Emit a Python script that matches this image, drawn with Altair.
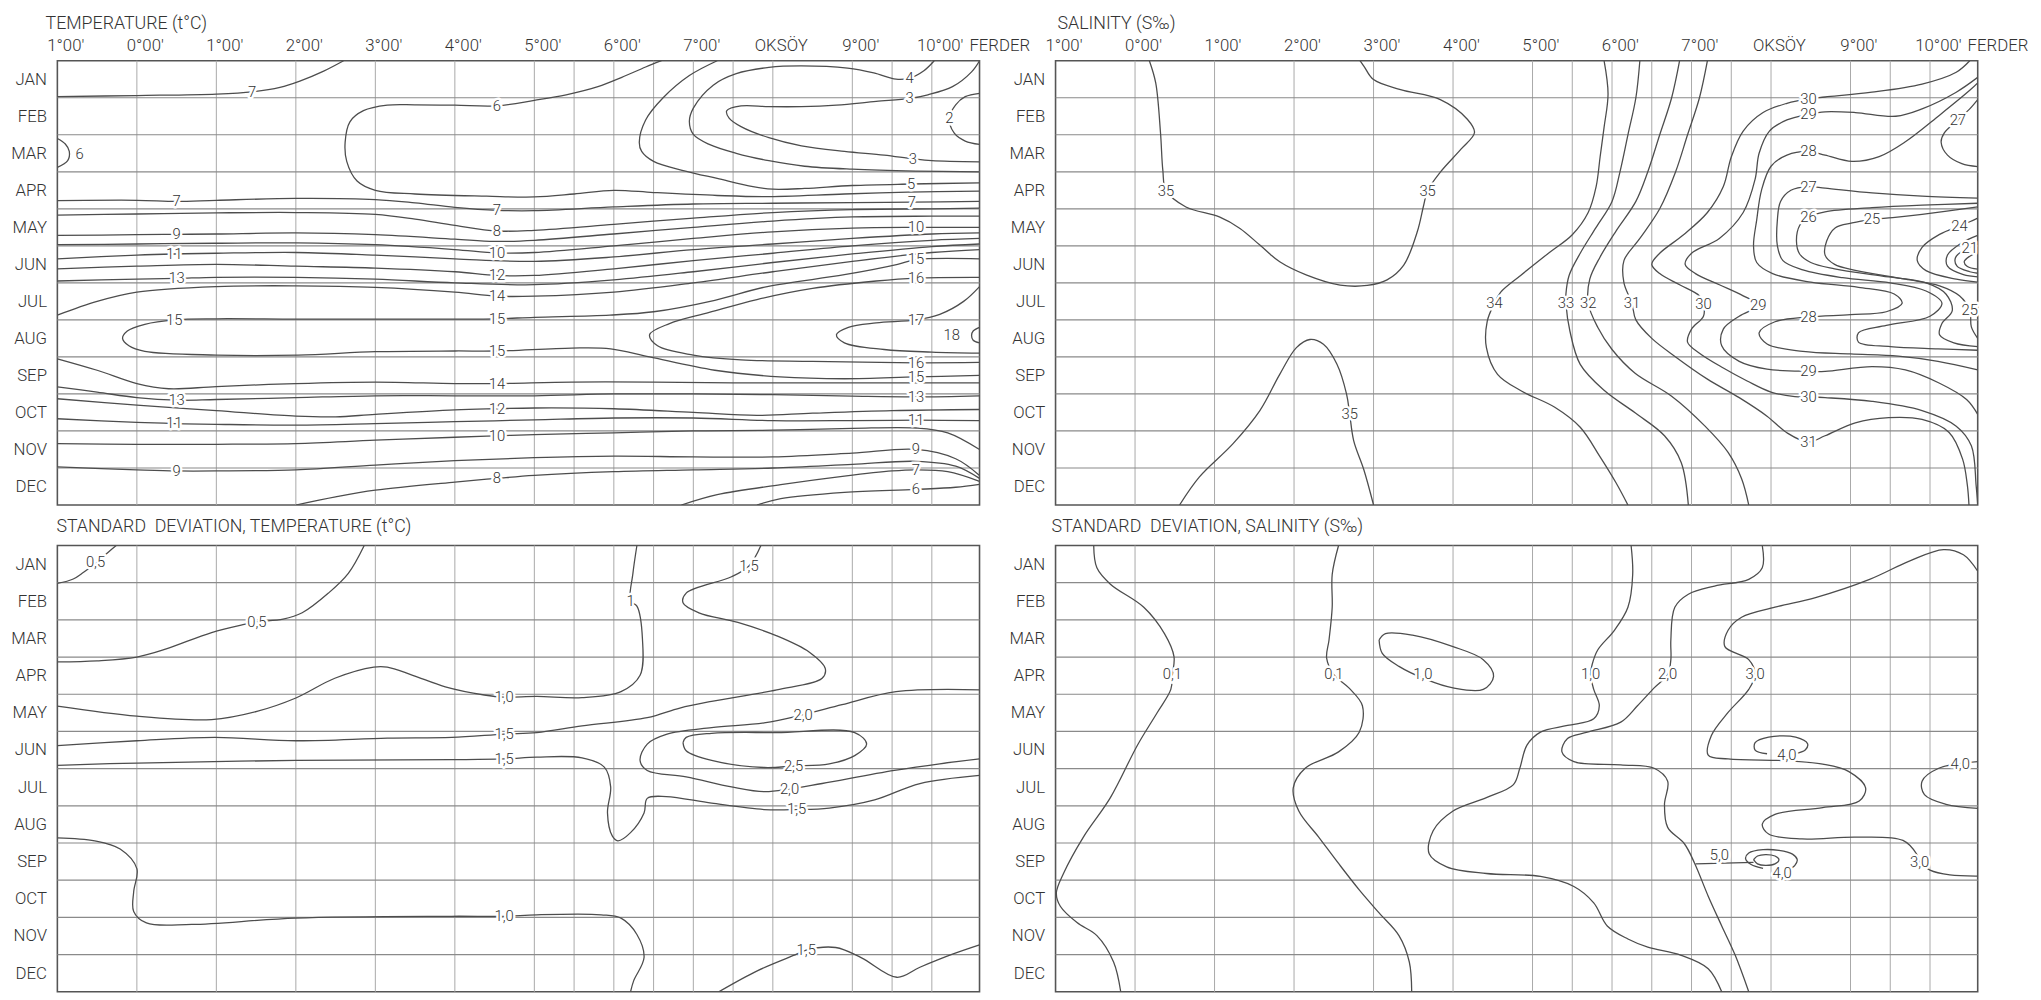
import json
import altair as alt
import pandas as pd

FONT = "Roboto, Liberation Sans, Arial, Helvetica, sans-serif"
WEIGHT = 300
INK = "#333333"
LINE = "#4d4d4d"

# ---------------- axes / grid values ----------------
MONTHS = ["JAN", "FEB", "MAR", "APR", "MAY", "JUN", "JUL", "AUG", "SEP", "OCT", "NOV", "DEC"]
MONTH_CENTRES = [0.5 + i for i in range(12)]
ROW_LINES = [1, 2, 3, 4, 5, 6, 7, 8, 9, 10, 11]
LON_TICKS = [-1, 0, 1, 2, 3, 4, 5, 6, 7, 8, 9, 10, 10.6]
LON_LABELS = ["1°00'", "0°00'", "1°00'", "2°00'", "3°00'", "4°00'", "5°00'", "6°00'",
              "7°00'", "OKSÖY", "9°00'", "10°00'", "FERDER"]
GRID_LON = [0, 1, 2, 3, 4, 5, 5.5, 6, 6.5, 7, 7.5, 8, 9, 9.5, 10]
LON_DOMAIN = [-1, 10.6]
MONTH_DOMAIN = [0, 12]

TITLES = ["TEMPERATURE (t°C)", "SALINITY (S‰)",
          "STANDARD\u00a0 DEVIATION, TEMPERATURE (t°C)",
          "STANDARD\u00a0 DEVIATION, SALINITY (S‰)"]

# ---------------- temperature contours (lon, month) ----------------
T07_jan = [(-1, 0.97), (0, 0.94), (1, 0.9), (1.45, 0.84), (1.8, 0.72), (2.05, 0.55), (2.35, 0.28), (2.6, 0)]
T06_loop = [(6.6, 0), (6.4, 0.17), (6.1, 0.45), (5.8, 0.7), (5.4, 0.92), (5.0, 1.07), (4.53, 1.22), (4.0, 1.2),
            (3.5, 1.19), (3.15, 1.2), (2.85, 1.35), (2.68, 1.65), (2.62, 2.2), (2.64, 2.72), (2.77, 3.25),
            (3.0, 3.5), (3.5, 3.6), (4.4, 3.66), (5.0, 3.68), (5.5, 3.6), (6.0, 3.5), (6.5, 3.56), (7.3, 3.64),
            (7.9, 3.67), (8.9, 3.6), (9.7, 3.55), (10.6, 3.52)]
T05 = [(7.3, 0), (6.95, 0.4), (6.62, 1.0), (6.4, 1.6), (6.32, 2.2), (6.35, 2.45), (6.5, 2.72), (6.9, 2.98),
       (7.3, 3.18), (7.75, 3.4), (8.0, 3.47), (8.4, 3.45), (9.0, 3.37), (9.74, 3.33), (10.6, 3.3)]
T04 = [(10.03, 0), (9.9, 0.27), (9.72, 0.47), (9.55, 0.5), (9.27, 0.33), (8.94, 0.2), (8.36, 0.14), (7.95, 0.18),
       (7.54, 0.35), (7.25, 0.66), (7.0, 1.28), (6.95, 1.64), (7.0, 1.99), (7.2, 2.26), (7.54, 2.5), (7.95, 2.7),
       (8.4, 2.85), (9.0, 2.93), (9.8, 2.98), (10.6, 3.0)]
T03 = [(10.6, 0), (10.5, 0.3), (10.26, 0.7), (9.95, 0.92), (9.72, 1.02), (9.3, 1.1), (8.8, 1.2), (8.36, 1.24),
       (7.95, 1.24), (7.6, 1.22), (7.42, 1.35), (7.45, 1.55), (7.6, 1.78), (7.95, 2.08), (8.36, 2.3), (8.9, 2.45),
       (9.4, 2.55), (9.76, 2.65), (10.0, 2.7), (10.6, 2.73)]
T02 = [(10.6, 0.88), (10.42, 0.97), (10.3, 1.19), (10.22, 1.55), (10.28, 1.95), (10.42, 2.17), (10.6, 2.26)]
T06_mar = [(-1, 2.1), (-0.9, 2.25), (-0.85, 2.45), (-0.87, 2.7), (-1, 2.88)]
T07_apr = [(-1, 3.78), (0, 3.77), (0.5, 3.8), (1, 3.77), (2, 3.72), (3, 3.75), (3.5, 3.84), (4, 3.96), (4.53, 4.04),
           (5, 4.05), (6, 3.95), (7, 3.87), (8, 3.85), (9, 3.83), (9.75, 3.82), (10.6, 3.8)]
T08_may = [(-1, 4.17), (0, 4.14), (1, 4.11), (2, 4.1), (3, 4.15), (3.5, 4.28), (4, 4.45), (4.53, 4.6), (5, 4.58),
           (6, 4.42), (7, 4.25), (8, 4.1), (9, 4.02), (10, 4.0), (10.6, 3.98)]
T09_may = [(-1, 4.72), (0, 4.7), (0.5, 4.69), (1, 4.68), (2, 4.65), (3, 4.7), (4, 4.82), (4.5, 4.88), (5, 4.85),
           (6, 4.68), (7, 4.5), (8, 4.33), (9, 4.22), (10, 4.2), (10.6, 4.2)]
T10_jun = [(-1, 4.97), (0, 4.95), (1, 4.93), (2, 4.92), (3, 4.97), (4, 5.1), (4.53, 5.19), (5, 5.18), (6, 5.0),
           (7, 4.8), (8, 4.62), (9, 4.52), (9.8, 4.5), (10.6, 4.5)]
T11_jun = [(-1, 5.35), (0, 5.25), (0.47, 5.22), (1, 5.2), (2, 5.18), (3, 5.25), (4, 5.35), (5, 5.42), (6, 5.3),
           (7, 5.1), (8, 4.95), (9, 4.8), (10, 4.68), (10.6, 4.65)]
T12_jun = [(-1, 5.62), (0, 5.55), (1, 5.5), (2, 5.55), (3, 5.6), (4, 5.7), (4.53, 5.8), (5, 5.8), (6, 5.62),
           (7, 5.4), (8, 5.2), (9, 5.0), (10, 4.85), (10.6, 4.8)]
T13_jun = [(-1, 5.95), (0, 5.9), (0.5, 5.88), (1, 5.85), (2, 5.85), (3, 5.9), (4, 6.0), (5, 6.05), (6, 5.92),
           (7, 5.7), (8, 5.45), (9, 5.22), (10, 5.02), (10.6, 4.95)]
T14_jul = [(-1, 6.87), (-0.5, 6.5), (0, 6.25), (1, 6.1), (2, 6.08), (3, 6.12), (4, 6.25), (4.53, 6.36), (5, 6.36),
           (6, 6.25), (7, 6.0), (8, 5.7), (9, 5.42), (10, 5.18), (10.6, 5.1)]
T15_loop = [(10.6, 5.35), (9.8, 5.37), (9.57, 5.5), (8.9, 5.78), (7.93, 6.1), (7.27, 6.47), (6.5, 6.78),
            (5.95, 6.87), (5, 6.93), (4.53, 6.97), (4, 6.98), (3, 6.98), (2, 6.98), (1, 6.97), (0.47, 7.0),
            (0.1, 7.12), (-0.12, 7.3), (-0.18, 7.5), (-0.1, 7.7), (0.1, 7.85), (1.0, 7.95), (2.03, 7.95),
            (3.0, 7.86), (4.0, 7.84), (4.53, 7.84), (5.47, 7.76), (5.96, 7.78), (6.45, 8.0), (7.27, 8.36),
            (8.09, 8.54), (8.9, 8.59), (9.8, 8.54), (10.6, 8.5)]
T16_loop = [(10.6, 5.85), (9.8, 5.87), (9.3, 5.95), (8.5, 6.15), (7.8, 6.45), (7.2, 6.8), (6.7, 7.1), (6.45, 7.4),
            (6.55, 7.7), (7.0, 7.95), (7.6, 8.08), (8.5, 8.12), (9.8, 8.16), (10.6, 8.15)]
T17_loop = [(10.6, 6.1), (10.4, 6.5), (10.1, 6.85), (9.8, 7.0), (9.3, 7.08), (8.95, 7.2), (8.8, 7.4), (8.9, 7.62),
            (9.4, 7.8), (10.0, 7.87), (10.6, 7.9)]
T18_loop = [(10.6, 7.2), (10.52, 7.3), (10.5, 7.42), (10.52, 7.55), (10.6, 7.62)]
T14_aut = [(-1, 8.05), (-0.5, 8.36), (0, 8.72), (0.4, 8.86), (1, 8.8), (2, 8.72), (3, 8.68), (4, 8.72),
           (4.53, 8.72), (5.47, 8.68), (6.5, 8.68), (7.5, 8.7), (8.5, 8.7), (9.5, 8.7), (10.6, 8.7)]
T13_aut = [(-1, 8.81), (-0.5, 8.95), (0, 9.1), (0.5, 9.17), (1, 9.15), (2, 9.1), (3, 9.05), (4, 9.05), (5, 9.05),
           (6, 9.0), (7, 9.0), (8, 9.02), (9, 9.06), (9.8, 9.08), (10.6, 9.05)]
T12_aut = [(-1, 9.13), (0, 9.3), (1, 9.45), (2, 9.6), (2.5, 9.62), (3, 9.55), (4, 9.43), (4.53, 9.4), (5, 9.38),
           (6, 9.4), (7, 9.5), (7.8, 9.58), (8.5, 9.52), (9.5, 9.45), (10.6, 9.42)]
T11_aut = [(-1, 9.67), (0, 9.77), (0.47, 9.8), (1, 9.82), (2, 9.84), (3, 9.8), (4, 9.75), (5, 9.7), (6, 9.65),
           (7, 9.65), (8, 9.72), (9, 9.72), (9.8, 9.71), (10.6, 9.72)]
T10_aut = [(-1, 10.34), (0, 10.36), (1, 10.36), (2, 10.34), (3, 10.25), (4, 10.17), (4.53, 10.13), (5, 10.1),
           (6, 10.05), (7, 10.0), (8, 9.98), (9, 9.93), (9.8, 9.92), (10.2, 10.05), (10.6, 10.5)]
T09_aut = [(-1, 10.97), (0, 11.05), (0.5, 11.08), (1, 11.08), (2, 11.05), (3, 10.92), (4, 10.8), (5, 10.72),
           (6, 10.68), (7, 10.7), (8, 10.7), (9, 10.6), (9.8, 10.5), (10.3, 10.75), (10.6, 11.2)]
T08_dec = [(2.0, 12.0), (2.5, 11.78), (3, 11.6), (4, 11.38), (4.53, 11.28), (5, 11.2), (6, 11.1), (7, 11.05),
           (8, 11.0), (9, 10.9), (9.8, 10.82), (10.3, 10.95), (10.6, 11.28)]
T07_dec = [(6.85, 12.0), (7.3, 11.72), (8.1, 11.45), (8.9, 11.22), (9.5, 11.08), (9.8, 11.05), (10.2, 11.1),
           (10.6, 11.36)]
T06_dec = [(7.8, 12.0), (8.1, 11.83), (8.9, 11.66), (9.8, 11.58), (10.3, 11.52), (10.6, 11.44)]

TEMP_LABELS = [("7", 1.45, 0.84), ("6", 4.53, 1.22), ("4", 9.72, 0.47), ("3", 9.72, 1.02), ("2", 10.22, 1.55),
               ("3", 9.76, 2.65), ("6", -0.72, 2.52), ("5", 9.74, 3.33), ("7", 0.5, 3.8), ("7", 4.53, 4.04),
               ("7", 9.75, 3.82), ("8", 4.53, 4.6), ("9", 0.5, 4.69), ("10", 4.53, 5.19), ("10", 9.8, 4.5),
               ("11", 0.47, 5.22), ("12", 4.53, 5.8), ("13", 0.5, 5.88), ("15", 9.8, 5.37), ("16", 9.8, 5.87),
               ("14", 4.53, 6.36), ("15", 0.47, 7.0), ("15", 4.53, 6.97), ("17", 9.8, 7.0), ("18", 10.25, 7.42),
               ("15", 4.53, 7.84), ("16", 9.8, 8.16), ("15", 9.8, 8.54), ("14", 4.53, 8.72), ("13", 0.5, 9.17),
               ("13", 9.8, 9.08), ("12", 4.53, 9.4), ("11", 0.47, 9.8), ("11", 9.8, 9.71), ("10", 4.53, 10.13),
               ("9", 9.8, 10.5), ("9", 0.5, 11.08), ("8", 4.53, 11.28), ("7", 9.8, 11.05), ("6", 9.8, 11.58)]

# ---------------- salinity contours ----------------
S35_north = [(0.18, 0), (0.26, 0.6), (0.32, 1.94), (0.35, 2.97), (0.39, 3.51), (0.64, 3.95), (1.06, 4.22),
             (1.32, 4.53), (1.57, 4.98), (1.82, 5.43), (2.16, 5.79), (2.58, 6.06), (2.92, 6.07), (3.17, 5.92),
             (3.38, 5.52), (3.55, 4.62), (3.63, 3.91), (3.68, 3.51), (3.84, 3.01), (4.1, 2.39), (4.27, 1.94),
             (4.18, 1.58), (3.84, 1.05), (3.34, 0.78), (3.0, 0.51), (2.88, 0.15), (2.83, 0)]
S35_south = [(0.56, 12), (0.81, 11.24), (1.23, 10.35), (1.57, 9.45), (1.82, 8.47), (2.03, 7.75), (2.2, 7.53),
             (2.37, 7.66), (2.54, 8.2), (2.66, 9.0), (2.7, 9.54), (2.75, 10.26), (2.88, 11.06), (3.0, 12)]
S34 = [(5.9, 0), (5.95, 0.9), (5.9, 1.8), (5.85, 2.6), (5.8, 3.4), (5.7, 4.1), (5.5, 4.7), (5.2, 5.2), (4.85, 5.8),
       (4.6, 6.25), (4.52, 6.55), (4.43, 7.04), (4.42, 7.75), (4.56, 8.47), (4.86, 8.92), (5.28, 9.36), (5.6, 9.9),
       (5.85, 10.7), (6.05, 11.4), (6.2, 12)]
S33 = [(6.35, 0), (6.3, 1.0), (6.2, 2.0), (6.1, 3.0), (6.0, 3.8), (5.8, 4.5), (5.6, 5.2), (5.46, 5.8),
       (5.42, 6.3), (5.42, 6.55), (5.47, 7.3), (5.6, 8.2), (5.9, 8.9), (6.29, 9.51), (6.66, 10.13),
       (6.87, 10.85), (6.96, 12)]
S32 = [(6.85, 0), (6.75, 1.0), (6.6, 2.0), (6.45, 3.0), (6.3, 3.8), (6.05, 4.6), (5.85, 5.3), (5.72, 5.9),
       (5.7, 6.55), (5.82, 7.2), (6.0, 7.8), (6.29, 8.44), (6.75, 9.06), (7.17, 9.87), (7.46, 10.58),
       (7.63, 11.29), (7.72, 12)]
S31 = [(7.2, 0), (7.1, 1.0), (6.95, 2.0), (6.8, 3.0), (6.6, 4.0), (6.35, 4.8), (6.15, 5.4), (6.15, 6.0),
       (6.25, 6.55), (6.3, 7.0), (6.5, 7.5), (6.8, 8.0), (7.2, 8.6), (7.6, 9.1), (7.95, 9.6), (8.2, 10.05),
       (8.47, 10.3), (8.68, 10.13), (9.06, 9.78), (9.48, 9.64), (9.9, 9.69), (10.24, 10.04), (10.41, 10.76),
       (10.47, 11.47), (10.49, 12)]
S30 = [(10.5, 0), (10.33, 0.31), (9.9, 0.63), (9.27, 0.85), (8.68, 0.98), (8.47, 1.03), (8.2, 1.15), (7.9, 1.4),
       (7.65, 1.9), (7.5, 2.6), (7.4, 3.4), (7.2, 4.1), (6.9, 4.7), (6.6, 5.2), (6.5, 5.5), (6.6, 5.75),
       (6.85, 6.05), (7.1, 6.35), (7.15, 6.56), (7.15, 6.9), (7.0, 7.25), (6.95, 7.6), (7.1, 7.9), (7.4, 8.3),
       (7.7, 8.65), (8.0, 8.95), (8.3, 9.07), (8.47, 9.08), (8.68, 9.1), (9.27, 9.2), (9.9, 9.45), (10.33, 9.87),
       (10.52, 10.4), (10.58, 11.47), (10.6, 12)]
S29 = [(10.6, 0.45), (10.33, 0.85), (9.9, 1.3), (9.57, 1.5), (9.06, 1.4), (8.68, 1.38), (8.47, 1.45), (8.2, 1.6),
       (7.98, 1.9), (7.85, 2.5), (7.8, 3.2), (7.65, 4.1), (7.35, 4.8), (7.0, 5.2), (6.92, 5.5), (7.05, 5.75),
       (7.35, 6.05), (7.65, 6.35), (7.84, 6.6), (7.6, 6.9), (7.4, 7.25), (7.38, 7.7), (7.6, 8.12), (7.95, 8.33),
       (8.47, 8.39), (8.68, 8.39), (9.27, 8.26), (9.69, 8.35), (10.12, 8.71), (10.46, 9.15), (10.6, 9.55)]
S28 = [(10.6, 0.6), (10.5, 0.8), (10.12, 1.47), (9.69, 2.19), (9.36, 2.59), (9.02, 2.72), (8.68, 2.55),
       (8.47, 2.45), (8.2, 2.55), (8.0, 2.85), (7.88, 3.5), (7.82, 4.3), (7.78, 5.0), (7.82, 5.45), (8.02, 5.75),
       (8.5, 5.98), (9.1, 6.12), (9.55, 6.3), (9.65, 6.55), (9.45, 6.78), (9.0, 6.86), (8.47, 6.92), (8.05, 7.05),
       (7.85, 7.35), (7.95, 7.65), (8.4, 7.85), (9.0, 7.92), (9.6, 7.98), (10.1, 8.12), (10.6, 8.35)]
S27_ferder = [(10.6, 1.05), (10.5, 1.3), (10.35, 1.6), (10.18, 1.95), (10.14, 2.2), (10.22, 2.55), (10.4, 2.78),
              (10.6, 2.86)]
S27 = [(10.6, 3.71), (9.9, 3.66), (9.27, 3.57), (8.68, 3.44), (8.47, 3.4), (8.25, 3.5), (8.12, 3.8), (8.08, 4.3),
       (8.08, 5.0), (8.15, 5.4), (8.4, 5.65), (8.9, 5.86), (9.5, 6.0), (9.95, 6.22), (10.15, 6.55), (10.0, 6.9),
       (9.45, 7.15), (9.1, 7.35), (9.1, 7.6), (9.5, 7.72), (10.1, 7.78), (10.6, 7.82)]
S26 = [(10.6, 3.85), (9.9, 3.9), (9.27, 3.97), (8.68, 4.08), (8.47, 4.22), (8.36, 4.45), (8.32, 4.87),
       (8.36, 5.22), (8.5, 5.45), (8.8, 5.62), (9.4, 5.82), (9.95, 6.0), (10.2, 6.3), (10.28, 6.75),
       (10.15, 7.1), (10.12, 7.4), (10.3, 7.62), (10.6, 7.72)]
S25 = [(10.6, 3.95), (9.9, 4.15), (9.53, 4.24), (9.27, 4.29), (9.02, 4.38), (8.81, 4.51), (8.7, 4.87),
       (8.68, 5.25), (8.8, 5.5), (9.06, 5.66), (9.69, 5.9), (10.12, 6.08), (10.37, 6.35), (10.5, 6.74),
       (10.52, 7.19), (10.6, 7.5)]
S24 = [(10.6, 4.25), (10.5, 4.35), (10.37, 4.46), (10.12, 4.69), (9.9, 5.04), (9.84, 5.4), (9.95, 5.67),
       (10.33, 5.9), (10.6, 5.98)]
S23 = [(10.6, 4.72), (10.4, 4.92), (10.22, 5.25), (10.22, 5.55), (10.42, 5.78), (10.6, 5.84)]
S22 = [(10.6, 4.95), (10.45, 5.08), (10.32, 5.32), (10.34, 5.55), (10.5, 5.7), (10.6, 5.74)]
S21 = [(10.6, 5.18), (10.5, 5.28), (10.43, 5.43), (10.47, 5.56), (10.6, 5.63)]

SAL_LABELS = [("35", 0.39, 3.51), ("35", 3.68, 3.51), ("35", 2.7, 9.54), ("34", 4.52, 6.55), ("33", 5.42, 6.55),
              ("32", 5.7, 6.55), ("31", 6.25, 6.55), ("30", 7.15, 6.56), ("29", 7.84, 6.6), ("30", 8.47, 1.03),
              ("29", 8.47, 1.45), ("28", 8.47, 2.45), ("27", 10.35, 1.6), ("27", 8.47, 3.4), ("26", 8.47, 4.22),
              ("25", 9.27, 4.29), ("24", 10.37, 4.46), ("21", 10.5, 5.05), ("25", 10.5, 6.74), ("28", 8.47, 6.92),
              ("29", 8.47, 8.39), ("30", 8.47, 9.08), ("31", 8.47, 10.3)]

# ---------------- standard deviation, temperature ----------------
D05_jan = [(-1, 1.02), (-0.8, 0.9), (-0.67, 0.72), (-0.5, 0.45), (-0.36, 0.18), (-0.26, 0.0)]
D05_spring = [(-1, 3.13), (-0.5, 3.1), (0, 3.0), (0.37, 2.78), (0.94, 2.34), (1.35, 2.12), (1.51, 2.05),
              (1.84, 1.98), (2.08, 1.81), (2.41, 1.28), (2.66, 0.75), (2.86, 0)]
D10_spring = [(-1, 4.32), (0, 4.59), (0.94, 4.68), (1.51, 4.46), (2.0, 4.1), (2.49, 3.57), (2.98, 3.27),
              (3.15, 3.27), (3.47, 3.49), (3.88, 3.8), (4.37, 4.02), (4.62, 4.08), (5.03, 4.06), (5.6, 4.09),
              (6.09, 3.93), (6.33, 3.49), (6.36, 2.52), (6.29, 1.63), (6.21, 1.5), (6.24, 0.75), (6.29, 0)]
D15_spring = [(7.85, 0), (7.7, 0.55), (7.48, 0.84), (6.91, 1.28), (6.87, 1.54), (7.07, 1.81), (7.56, 2.07),
              (8.05, 2.43), (8.46, 2.87), (8.66, 3.31), (8.62, 3.57), (8.05, 3.88), (7.23, 4.19), (6.83, 4.37),
              (6.42, 4.63), (5.6, 4.85), (5.03, 5.03), (4.62, 5.07), (3.96, 5.16), (3.15, 5.18), (2.0, 5.25),
              (0.98, 5.16), (0, 5.25), (-1, 5.38)]
D20 = [(10.6, 3.88), (9.55, 3.93), (8.87, 4.28), (8.38, 4.55), (7.89, 4.77), (7.23, 4.9), (6.66, 5.08),
       (6.42, 5.34), (6.33, 5.78), (6.42, 6.05), (6.91, 6.22), (7.48, 6.49), (7.89, 6.62), (8.21, 6.55),
       (8.62, 6.4), (9.53, 6.05), (10.1, 5.87), (10.6, 5.74)]
D25 = [(6.87, 5.3), (6.91, 5.16), (7.23, 5.05), (8.05, 5.03), (9.03, 5.03), (9.18, 5.34), (9.03, 5.65),
       (8.71, 5.87), (8.26, 5.93), (7.89, 5.97), (7.23, 5.78), (6.91, 5.52), (6.87, 5.3)]
D15_summer = [(-1, 5.91), (0, 5.85), (2.0, 5.78), (3.96, 5.76), (4.62, 5.74), (5.03, 5.69), (5.6, 5.71),
              (5.88, 5.96), (5.96, 6.49), (5.92, 7.19), (5.98, 7.81), (6.05, 7.94), (6.21, 7.72), (6.38, 7.19),
              (6.42, 6.8), (6.66, 6.75), (7.23, 6.93), (7.89, 7.1), (8.3, 7.1), (8.71, 7.06), (9.28, 6.84),
              (9.85, 6.4), (10.6, 6.18)]
D10_autumn = [(-1, 7.86), (-0.53, 7.94), (-0.21, 8.16), (0, 8.69), (-0.04, 9.31), (-0.04, 9.84), (0.12, 10.15),
              (0.69, 10.19), (2.0, 10.02), (3.96, 9.97), (4.62, 9.97), (5.03, 9.93), (5.84, 9.93), (6.09, 10.02),
              (6.29, 10.46), (6.38, 11.08), (6.25, 11.7), (6.21, 12)]
D15_winter = [(7.32, 12), (7.81, 11.43), (8.3, 10.99), (8.42, 10.88), (8.79, 10.81), (9.11, 11.08),
              (9.56, 11.61), (9.85, 11.34), (10.26, 10.99), (10.6, 10.74)]

SDT_LABELS = [("0,5", -0.52, 0.45), ("0,5", 1.51, 2.05), ("1", 6.21, 1.5), ("1,0", 4.62, 4.08),
              ("1,5", 7.7, 0.55), ("1,5", 4.62, 5.07), ("2,0", 8.38, 4.55), ("2,5", 8.26, 5.93),
              ("1,5", 4.62, 5.74), ("2,0", 8.21, 6.55), ("1,5", 8.3, 7.1), ("1,0", 4.62, 9.97),
              ("1,5", 8.42, 10.88)]

# ---------------- standard deviation, salinity ----------------
Q01_west = [(-0.52, 0), (-0.48, 0.6), (-0.31, 1.04), (0.11, 1.66), (0.37, 2.37), (0.49, 2.99), (0.47, 3.47),
            (0.45, 3.87), (0.28, 4.49), (0.03, 5.37), (-0.31, 6.78), (-0.65, 7.84), (-0.9, 8.82), (-0.99, 9.35),
            (-0.94, 9.7), (-0.73, 10.14), (-0.48, 10.49), (-0.27, 11.2), (-0.18, 12)]
Q01_mid = [(2.56, 0), (2.48, 0.78), (2.48, 1.66), (2.44, 2.54), (2.41, 3.03), (2.5, 3.47), (2.69, 3.83),
           (2.86, 4.31), (2.82, 5.02), (2.56, 5.55), (2.14, 5.99), (1.99, 6.52), (2.06, 7.14), (2.31, 7.84),
           (2.56, 8.55), (2.82, 9.26), (3.07, 9.88), (3.32, 10.49), (3.45, 11.2), (3.48, 12)]
Q10_loop = [(3.07, 2.54), (3.15, 2.37), (3.49, 2.41), (4.0, 2.72), (4.38, 3.07), (4.51, 3.52), (4.38, 3.87),
            (4.0, 3.83), (3.66, 3.6), (3.32, 3.25), (3.11, 2.9), (3.07, 2.54)]
Q10 = [(6.24, 0), (6.26, 0.78), (6.2, 1.66), (6.03, 2.28), (5.82, 2.81), (5.75, 3.2), (5.73, 3.47), (5.77, 3.87),
       (5.84, 4.31), (5.77, 4.66), (5.44, 4.84), (5.1, 5.02), (4.93, 5.37), (4.84, 5.99), (4.76, 6.43),
       (4.42, 6.78), (4.0, 7.14), (3.75, 7.67), (3.7, 8.29), (3.92, 8.64), (4.42, 8.82), (5.1, 8.9), (5.52, 9.17),
       (5.77, 9.61), (5.94, 10.23), (6.2, 10.58), (6.45, 10.8), (6.87, 11.02), (7.21, 11.38), (7.38, 12)]
Q20 = [(7.89, 0), (7.89, 0.6), (7.72, 0.91), (7.29, 1.09), (6.96, 1.31), (6.79, 1.66), (6.74, 2.54),
       (6.74, 3.07), (6.7, 3.47), (6.53, 3.83), (6.32, 4.31), (6.11, 4.75), (5.69, 5.02), (5.44, 5.19),
       (5.37, 5.55), (5.52, 5.81), (6.11, 5.9), (6.53, 5.99), (6.7, 6.34), (6.66, 6.96), (6.7, 7.58),
       (6.91, 8.02), (7.04, 8.55), (7.21, 9.43), (7.38, 10.23), (7.55, 11.02), (7.72, 12)]
Q30 = [(10.6, 0.69), (10.42, 0.25), (10.17, 0.11), (9.74, 0.42), (9.24, 0.91), (8.56, 1.4), (8.05, 1.66),
       (7.63, 1.93), (7.46, 2.28), (7.42, 2.72), (7.72, 3.07), (7.8, 3.47), (7.72, 3.87), (7.46, 4.49),
       (7.25, 5.11), (7.21, 5.64), (7.46, 5.74), (8.22, 5.79), (8.65, 5.88), (8.98, 6.08), (9.19, 6.52),
       (9.11, 6.87), (8.65, 7.05), (8.05, 7.23), (7.89, 7.49), (7.97, 7.76), (8.39, 7.89), (9.07, 7.84),
       (9.66, 7.93), (9.83, 8.29), (9.87, 8.51), (10.0, 8.73), (10.25, 8.86), (10.6, 8.89)]
Q40_jun = [(7.95, 5.6), (7.8, 5.5), (7.8, 5.3), (7.97, 5.15), (8.31, 5.15), (8.46, 5.33), (8.43, 5.5), (8.3, 5.6)]
Q40_ferder = [(10.6, 5.81), (10.11, 5.99), (9.9, 6.34), (9.93, 6.7), (10.2, 6.96), (10.6, 7.07)]
Q50_sep = [(7.78, 8.45), (7.83, 8.35), (7.93, 8.31), (8.05, 8.35), (8.1, 8.45), (8.05, 8.56), (7.93, 8.6),
           (7.83, 8.56), (7.78, 8.45)]
Q40_sep = [(8.2, 8.75), (8.3, 8.6), (8.33, 8.45), (8.27, 8.3), (8.1, 8.2), (7.9, 8.18), (7.72, 8.27),
           (7.68, 8.42), (7.75, 8.58), (7.9, 8.68)]
Q50_leader = [(7.05, 8.56), (7.78, 8.52)]

SDS_LABELS = [("0,1", 0.47, 3.47), ("0,1", 2.5, 3.47), ("1,0", 3.62, 3.47), ("1,0", 5.73, 3.47),
              ("2,0", 6.7, 3.47), ("3,0", 7.8, 3.47), ("4,0", 8.2, 5.64), ("4,0", 10.38, 5.88),
              ("5,0", 7.35, 8.32), ("4,0", 8.14, 8.8), ("3,0", 9.87, 8.51)]

TEMP_CONTOURS = [T07_jan, T06_loop, T05, T04, T03, T02, T06_mar, T07_apr, T08_may, T09_may, T10_jun, T11_jun,
                 T12_jun, T13_jun, T14_jul, T15_loop, T16_loop, T17_loop, T18_loop, T14_aut, T13_aut, T12_aut,
                 T11_aut, T10_aut, T09_aut, T08_dec, T07_dec, T06_dec]
SAL_CONTOURS = [S35_north, S35_south, S34, S33, S32, S31, S30, S29, S28, S27_ferder, S27, S26, S25, S24, S23,
                S22, S21]
SDT_CONTOURS = [D05_jan, D05_spring, D10_spring, D15_spring, D20, D25, D15_summer, D10_autumn, D15_winter]
SDS_CONTOURS = [Q01_west, Q01_mid, Q10_loop, Q10, Q20, Q30, Q40_jun, Q40_ferder, Q50_sep, Q40_sep, Q50_leader]

# ---------------- layout / style ----------------
W = 934
H_TOP, H_BOTTOM = 450, 452
SPACE_X, SPACE_Y = 77, 41
LABEL_SIZE = 17
CONTOUR_LABEL_SIZE = 15


def contour_table(contours):
    rows = []
    for cid, pts in enumerate(contours):
        for seq, (lon, m) in enumerate(pts):
            rows.append({"cid": cid, "seq": seq, "lon": lon, "m": m})
    return pd.DataFrame(rows)


def label_table(labels):
    return pd.DataFrame([{"txt": t, "lon": lon, "m": m} for t, lon, m in labels])


def panel(contours, labels, title, title_dx, title_offset, top_labels, height):
    xs = alt.Scale(domain=LON_DOMAIN, nice=False, zero=False)
    ys = alt.Scale(domain=MONTH_DOMAIN, reverse=True, nice=False, zero=False)
    if top_labels:
        lon_expr = "%s[datum.value > 10.3 ? %d : round(datum.value) + 1]" % (
            json.dumps(LON_LABELS, ensure_ascii=False), len(LON_LABELS) - 1)
        xaxis = alt.Axis(orient="top", values=LON_TICKS, labelExpr=lon_expr, ticks=False, domain=False,
                         grid=False, labelPadding=6, labelFontSize=LABEL_SIZE, labelFont=FONT,
                         labelFontWeight=WEIGHT, labelColor=INK, labelOverlap=False, labelFlush=False,
                         labelOffset={"condition": {"test": "datum.value > 10.3", "value": 20}, "value": 8},
                         title=None)
    else:
        xaxis = None
    month_expr = "%s[floor(datum.value)]" % json.dumps(MONTHS)
    yaxis = alt.Axis(values=MONTH_CENTRES, labelExpr=month_expr, ticks=False, domain=False, grid=False,
                     labelPadding=11, labelFontSize=LABEL_SIZE, labelFont=FONT, labelFontWeight=WEIGHT,
                     labelColor=INK, labelOverlap=False, labelFlush=False, title=None)
    X = alt.X("lon:Q", scale=xs, axis=xaxis)
    Y = alt.Y("m:Q", scale=ys, axis=yaxis)

    vgrid = alt.Chart(pd.DataFrame({"lon": GRID_LON})).mark_rule(
        color="#a9a9a9", strokeWidth=1).encode(x=X)
    hgrid = alt.Chart(pd.DataFrame({"m": ROW_LINES})).mark_rule(
        color="#8a8a8a", strokeWidth=1.2).encode(y=Y)
    lines = alt.Chart(contour_table(contours)).mark_line(
        interpolate="catmull-rom", color=LINE, strokeWidth=1.3, clip=True
    ).encode(x=X, y=Y, detail="cid:N", order="seq:Q")
    lab = label_table(labels)
    halo = alt.Chart(lab).mark_text(
        font=FONT, fontSize=CONTOUR_LABEL_SIZE, fontWeight=WEIGHT, stroke="white", strokeWidth=5,
        fill="white", strokeJoin="round").encode(x=X, y=Y, text="txt:N")
    text = alt.Chart(lab).mark_text(
        font=FONT, fontSize=CONTOUR_LABEL_SIZE, fontWeight=WEIGHT, color=INK
    ).encode(x=X, y=Y, text="txt:N")
    return alt.layer(vgrid, hgrid, lines, halo, text).properties(
        width=W, height=height,
        title=alt.TitleParams(title, anchor="start", frame="group", font=FONT, fontSize=18,
                              fontWeight=WEIGHT, color=INK, dx=title_dx, offset=title_offset))


p1 = panel(TEMP_CONTOURS, TEMP_LABELS, TITLES[0], -12, 4, True, H_TOP)
p2 = panel(SAL_CONTOURS, SAL_LABELS, TITLES[1], 2, 4, True, H_TOP)
p3 = panel(SDT_CONTOURS, SDT_LABELS, TITLES[2], -1, 9, False, H_BOTTOM)
p4 = panel(SDS_CONTOURS, SDS_LABELS, TITLES[3], -4, 9, False, H_BOTTOM)

chart = alt.concat(
    p1, p2, p3, p4, columns=2, spacing={"row": SPACE_Y, "column": SPACE_X}, bounds="flush"
).properties(
    padding={"left": 1, "top": 0, "right": 4, "bottom": 4},
    background="white",
).configure_view(stroke="#555555", strokeWidth=1.6)

chart.save("out.html", embed_options={"renderer": "svg", "actions": False})
